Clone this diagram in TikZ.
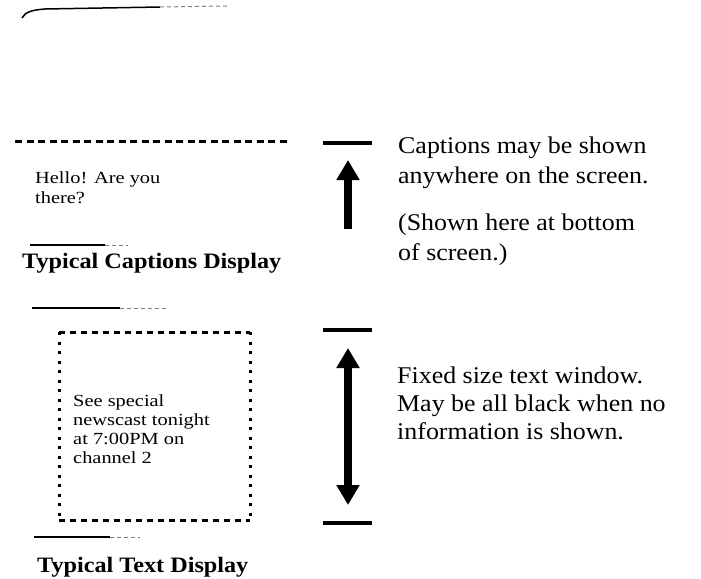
\documentclass[tikz,border=0pt]{standalone}
\usepackage{fontspec}
\setmainfont{Liberation Serif}
\newfontfamily\rtfont[FakeStretch=1.08]{Liberation Serif}
\newfontfamily\smfont[FakeStretch=1.2]{Liberation Serif}
\newfontfamily\ttlfont[FakeStretch=1.1]{Liberation Serif}
\usetikzlibrary{arrows.meta}
\begin{document}
\begin{tikzpicture}[x=1pt,y=-1pt,
  rt/.style={anchor=base west, inner sep=0pt, font=\rtfont\fontsize{24}{29}\selectfont},
  sm/.style={anchor=base west, inner sep=0pt, font=\smfont\fontsize{17}{20}\selectfont},
  ttl/.style={anchor=base west, inner sep=0pt, font=\ttlfont\bfseries\fontsize{22}{26}\selectfont},
  bar/.style={line width=4.5pt},
  fatarrow/.style={line width=8pt, -{Triangle[width=22pt,length=20pt]}},
  fatdouble/.style={line width=8pt, {Triangle[width=22pt,length=20pt]}-{Triangle[width=22pt,length=20pt]}},
  dashline/.style={line width=3pt, dash pattern=on 7pt off 4.5pt},
  rectdash/.style={line width=3pt, dash pattern=on 6pt off 5pt},
  rectdot/.style={line width=3pt, dash pattern=on 3pt off 6.5pt},
  faint/.style={line width=1.5pt},
  fainter/.style={line width=1pt, gray, dash pattern=on 4pt off 3pt}
]
\useasboundingbox (0,0) rectangle (701,578);

% screen top edge
\coordinate (c1) at (22,18);
\coordinate (c2) at (160,7);
\coordinate (c3) at (227,6);
\draw[faint] (c1) .. controls (25,12) and (32,10) .. (45,9) -- (c2);
\draw[fainter] (c2) -- (c3);

% caption display
\coordinate (dl) at (15,141);
\coordinate (dr) at (291,141);
\draw[dashline] (dl) -- (dr);
\node[sm] (hello1) at (35,183) {Hello! Are you};
\node[sm] (hello2) at (35,203) {there?};
\coordinate (s1a) at (30,245);
\coordinate (s1b) at (105,245);
\coordinate (s1c) at (128,245);
\draw[faint] (s1a) -- (s1b);
\draw[fainter] (s1b) -- (s1c);
\node[ttl] (capttl) at (22,268) {Typical Captions Display};

% text display
\coordinate (s2a) at (32,308);
\coordinate (s2b) at (120,308);
\coordinate (s2c) at (167,308);
\draw[faint] (s2a) -- (s2b);
\draw[fainter] (s2b) -- (s2c);
\coordinate (rtl) at (59,332);
\coordinate (rtr) at (250,332);
\coordinate (rbl) at (59,520);
\coordinate (rbr) at (250,520);
\draw[rectdash] (rtl) -- (rtr);
\draw[rectdash] (rbl) -- (rbr);
\draw[rectdot] (rtl) -- (rbl);
\draw[rectdot] (rtr) -- (rbr);
\node[sm] (see1) at (73,406) {See special};
\node[sm] (see2) at (73,425) {newscast tonight};
\node[sm] (see3) at (73,444) {at 7:00PM on};
\node[sm] (see4) at (73,463) {channel 2};
\coordinate (s3a) at (34,537);
\coordinate (s3b) at (110,537);
\coordinate (s3c) at (140,537);
\draw[faint] (s3a) -- (s3b);
\draw[fainter] (s3b) -- (s3c);
\node[ttl] (txtttl) at (37,572) {Typical Text Display};

% right side markers
\coordinate (b1l) at (323,143);
\coordinate (b1r) at (372,143);
\draw[bar] (b1l) -- (b1r);
\coordinate (a1s) at (348,229);
\coordinate (a1e) at (348,160);
\draw[fatarrow] (a1s) -- (a1e);

\coordinate (b2l) at (323,330);
\coordinate (b2r) at (372,330);
\draw[bar] (b2l) -- (b2r);
\coordinate (a2s) at (348,348);
\coordinate (a2e) at (348,505);
\draw[fatdouble] (a2s) -- (a2e);
\coordinate (b3l) at (323,523);
\coordinate (b3r) at (372,523);
\draw[bar] (b3l) -- (b3r);

\node[rt] (cap1) at (398,153) {Captions may be shown};
\node[rt] (cap2) at (398,183) {anywhere on the screen.};
\node[rt] (cap3) at (398,230) {(Shown here at bottom};
\node[rt] (cap4) at (398,260) {of screen.)};

\node[rt] (fix1) at (397,383) {Fixed size text window.};
\node[rt] (fix2) at (397,411) {May be all black when no};
\node[rt] (fix3) at (397,439) {information is shown.};
\end{tikzpicture}
\end{document}
